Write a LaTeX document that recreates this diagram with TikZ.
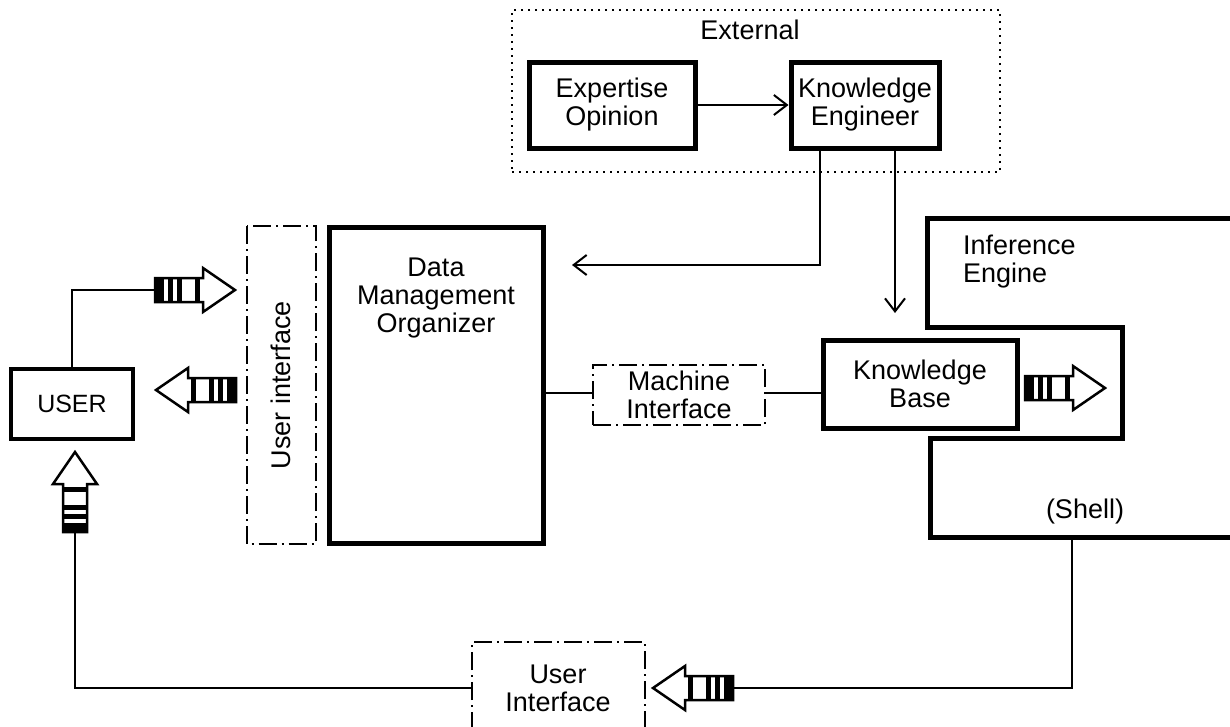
\documentclass[tikz,border=0pt]{standalone}
\usepackage{fontspec}
\setmainfont{Liberation Sans}
\usetikzlibrary{arrows.meta}
\begin{document}
\begin{tikzpicture}[x=1pt,y=-1pt,line width=2pt,font=\fontsize{27}{28}\selectfont]
	\tikzstyle{box}=[draw,line width=5pt,align=center,inner sep=0pt]
	\tikzstyle{iface}=[draw,dash pattern=on 18pt off 5pt on 2pt off 5pt,align=center,inner sep=0pt]
	\tikzstyle{txt}=[align=center,inner sep=0pt]
	\tikzstyle{barb}=[-{Straight Barb[length=13pt,width=20pt]}]
	\tikzset{striped/.pic={
		\fill (0,-12) rectangle (9,12);
		\fill (13,-12) rectangle (18,12);
		\fill (22,-12) rectangle (27,12);
		\fill (40,-12) rectangle (45,12);
		\draw[line width=2.5pt,line join=miter] (0,-12) -- (48,-12) -- (48,-22) -- (80,0) -- (48,22) -- (48,12) -- (0,12) -- cycle;
		\coordinate (-tail) at (0,0);
		\coordinate (-tip) at (80,0);
	}}

	\useasboundingbox (0,0) rectangle (1230,726);

	% external part
	\node[draw,dash pattern=on 2pt off 5pt,line width=2.5pt,minimum width=488pt,minimum height=162pt](ext) at (756,91){};
	\node[txt](exttxt) at (750,30){External};
	\node[box,minimum width=166pt,minimum height=86pt](exp) at (612,105){Expertise\\Opinion};
	\node[box,minimum width=148pt,minimum height=86pt](ke) at (865,105){Knowledge\\Engineer};

	% middle
	\node[iface,rotate=90,minimum width=318pt,minimum height=69pt](ui) at (281,385){User interface};
	\node[box,minimum width=214pt,minimum height=316pt,label={[txt,below=32pt]north:Data\\Management\\Organizer}](dmo) at (436,385){};
	\node[box,line width=4pt,minimum width=122pt,minimum height=70pt,font=\fontsize{25}{28}\selectfont](user) at (72,404){USER};
	\node[iface,minimum width=172pt,minimum height=60pt](mi) at (679,395){Machine\\Interface};
	\node[box,minimum width=194pt,minimum height=88pt](kb) at (920,384){Knowledge\\Base};

	% shell
	\draw[line width=5pt,line join=miter] (1232,218) -- (927,218) -- (927,327) -- (1122,327) -- (1122,438) -- (930,438) -- (930,537) -- (1232,537);
	\node[txt,anchor=north west,align=left](ie) at (962,234){Inference\\Engine};
	\node[txt](shell) at (1085,512){(Shell)};
	\coordinate (shellout) at (1072,537);

	% bottom interface
	\draw[dash pattern=on 18pt off 5pt on 2pt off 5pt] (472,730) -- (472,642) -- (645,642) -- (645,730);
	\node[txt](ui2) at (558,688){User\\Interface};
	\coordinate (ui2w) at (472,688);

	\coordinate (dmoin) at (572,265);
	\coordinate (kbin) at (895,313);

	% striped arrows
	\pic (toui) at (155,290) {striped};
	\pic[rotate=180] (tousr) at (236,390) {striped};
	\pic[rotate=90] (upu) at (75,532) {striped};
	\pic (kbarr) at (1025,388) {striped};
	\pic[rotate=180] (botarr) at (733,688) {striped};

	% connectors
	\draw[barb] (exp) -- (ke);
	\draw[barb] ([xshift=-45pt]ke.south) |- (dmoin);
	\draw[barb] ([xshift=30pt]ke.south) -- (kbin);
	\draw (user.north) |- (toui-tail);
	\draw (dmo.east |- 0,393) -- (mi.west |- 0,393);
	\draw (mi.east |- 0,393) -- (kb.west |- 0,393);
	\draw (shellout) |- (botarr-tail);
	\draw (upu-tail) |- (ui2w);
\end{tikzpicture}
\end{document}
